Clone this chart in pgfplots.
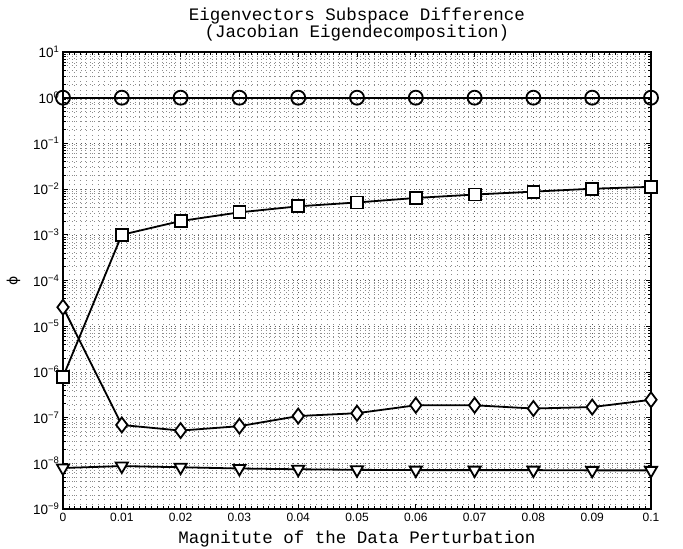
\documentclass[border=0pt]{standalone}
\usepackage{fontspec}
\setmainfont{Liberation Sans}
\newfontfamily\cour{Liberation Mono}
\newfontfamily\dejavu{DejaVu Sans}
\usepackage{pgfplots}
\pgfplotsset{compat=1.18}
\newcommand\tp[1]{10\textsuperscript{#1}}
\begin{document}
\begin{tikzpicture}
\begin{axis}[
  scale only axis, width=588pt, height=457pt,
  ymode=log, xmin=0, xmax=0.1, ymin=1e-9, ymax=1e1,
  clip=false,
  axis line style={line width=1.3pt},
  tick style={black, line width=0.7pt},
  tick align=inside,
  major tick length=5pt, minor tick length=3pt,
  xtick={0,0.01,0.02,0.03,0.04,0.05,0.06,0.07,0.08,0.09,0.1},
  xticklabels={0,0.01,0.02,0.03,0.04,0.05,0.06,0.07,0.08,0.09,0.1},
  minor x tick num=9,
  ytick={1e-9,1e-8,1e-7,1e-6,1e-5,1e-4,1e-3,1e-2,1e-1,1e0,1e1},
  yticklabels={\tp{−9},\tp{−8},\tp{−7},\tp{−6},\tp{−5},\tp{−4},\tp{−3},\tp{−2},\tp{−1},\tp{0},\tp{1}},
  xticklabel style={font=\fontsize{12}{12}\selectfont, yshift=-1pt},
  yticklabel style={font=\fontsize{13.5}{14}\selectfont},
  grid=both,
  major grid style={black!65, dash pattern=on 0.7pt off 3.8pt, line width=0.6pt},
  minor grid style={black!45, dash pattern=on 0.7pt off 3.8pt, line width=0.6pt},
  title={Eigenvectors Subspace Difference\\(Jacobian Eigendecomposition)},
  title style={align=center, yshift=1pt, font=\cour\fontsize{17.5}{17}\selectfont},
  xlabel={Magnitute of the Data Perturbation},
  xlabel style={yshift=-2pt, font=\cour\fontsize{17.5}{18}\selectfont},
  ylabel={\dejavu ϕ},
  ylabel style={yshift=6pt, font=\fontsize{14}{14}\selectfont},
  every axis plot/.append style={black, line width=1.8pt},
]
\addplot[mark=o, mark size=7pt, mark options={fill=white, solid}] coordinates {
(0,1) (0.01,1) (0.02,1) (0.03,1) (0.04,1) (0.05,1) (0.06,1) (0.07,1) (0.08,1) (0.09,1) (0.1,1)};
\addplot[mark=square*, mark size=6pt, mark options={fill=white, solid}] coordinates {
(0,7.8e-7) (0.01,1.0e-3) (0.02,2.0e-3) (0.03,3.1e-3) (0.04,4.2e-3) (0.05,5.1e-3) (0.06,6.4e-3) (0.07,7.6e-3) (0.08,8.8e-3) (0.09,1.02e-2) (0.1,1.12e-2)};
\addplot[mark=diamond*, mark size=7.5pt, mark options={fill=white, solid}] coordinates {
(0,2.6e-5) (0.01,6.9e-8) (0.02,5.2e-8) (0.03,6.5e-8) (0.04,1.08e-7) (0.05,1.25e-7) (0.06,1.86e-7) (0.07,1.86e-7) (0.08,1.58e-7) (0.09,1.7e-7) (0.1,2.45e-7)};
\addplot[mark=triangle*, mark size=7pt, mark options={fill=white, solid, rotate=180}] coordinates {
(0,7.9e-9) (0.01,8.7e-9) (0.02,8.2e-9) (0.03,7.7e-9) (0.04,7.4e-9) (0.05,7.2e-9) (0.06,7.1e-9) (0.07,7.1e-9) (0.08,7.1e-9) (0.09,7.0e-9) (0.1,7.0e-9)};
\end{axis}
\pgfresetboundingbox
\useasboundingbox ([xshift=-63pt,yshift=-40pt]current axis.south west) rectangle ([xshift=32pt,yshift=52pt]current axis.north east);
\end{tikzpicture}
\end{document}
